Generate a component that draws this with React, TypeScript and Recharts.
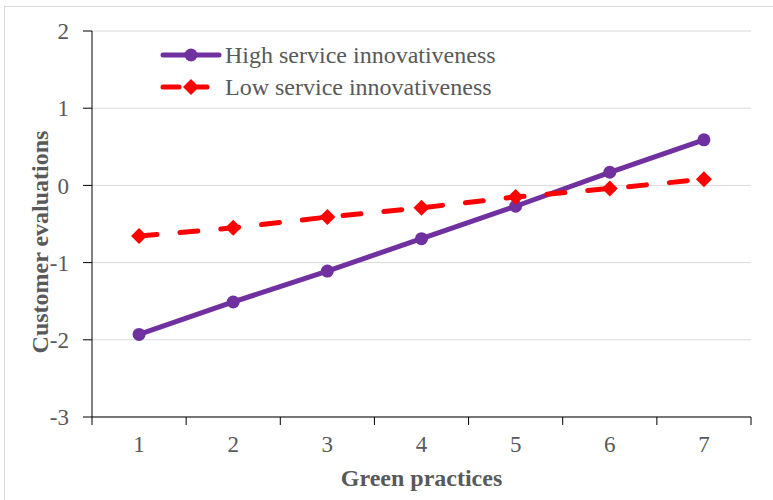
import { LineChart, Line, XAxis, YAxis, CartesianGrid, Legend } from "recharts";

const GREEN_PRACTICES = [1, 2, 3, 4, 5, 6, 7];
const HIGH_INNOVATIVENESS = [-1.93, -1.51, -1.11, -0.69, -0.27, 0.17, 0.59];
const LOW_INNOVATIVENESS = [-0.655, -0.55, -0.41, -0.29, -0.15, -0.04, 0.08];
const Y_TICKS = [-3, -2, -1, 0, 1, 2];
const X_BOUNDARIES = [0.5, 1.5, 2.5, 3.5, 4.5, 5.5, 6.5, 7.5];

const SERIES_HIGH = "High service innovativeness";
const SERIES_LOW = "Low service innovativeness";

const data = GREEN_PRACTICES.map((x, i) => ({
  x,
  high: HIGH_INNOVATIVENESS[i],
  low: LOW_INNOVATIVENESS[i],
}));

const xTicks = [...GREEN_PRACTICES, ...X_BOUNDARIES].sort((a, b) => a - b);

const FONT = '"Liberation Serif", "Times New Roman", serif';
const TEXT = "#595959";
const PURPLE = "#7030A0";
const RED = "#FF0000";

const Diamond = (props: any) => {
  const { cx, cy, size = 8 } = props;
  if (cx == null || cy == null) return <g />;
  return (
    <path
      d={`M${cx},${cy - size} L${cx + size},${cy} L${cx},${cy + size} L${cx - size},${cy} Z`}
      fill={RED}
    />
  );
};

// integer ticks get a label, half ticks get a small mark at the category boundary
const XTick = (props: any) => {
  const { x, y, payload } = props;
  const v = payload.value;
  if (!Number.isInteger(v)) {
    return <line x1={x} x2={x} y1={y} y2={y + 8} stroke="#000" strokeWidth={1} />;
  }
  return (
    <text x={x} y={y + 35} textAnchor="middle" fill={TEXT} fontSize={23} fontFamily={FONT}>
      {v}
    </text>
  );
};

const LegendBox = () => (
  <div style={{ fontFamily: FONT, fontSize: 24, color: TEXT, lineHeight: "32px" }}>
    <div style={{ display: "flex", alignItems: "center" }}>
      <svg width={62} height={20}>
        <line x1={3} x2={59} y1={10} y2={10} stroke={PURPLE} strokeWidth={5} strokeLinecap="round" />
        <circle cx={31} cy={10} r={6.5} fill={PURPLE} />
      </svg>
      <span style={{ marginLeft: 3 }}>{SERIES_HIGH}</span>
    </div>
    <div style={{ display: "flex", alignItems: "center" }}>
      <svg width={62} height={20}>
        <line x1={3} x2={59} y1={10} y2={10} stroke={RED} strokeWidth={5} strokeDasharray="16 12" strokeLinecap="round" />
        <Diamond cx={31} cy={10} size={8} />
      </svg>
      <span style={{ marginLeft: 3 }}>{SERIES_LOW}</span>
    </div>
  </div>
);

export default function App() {
  return (
    <div
      style={{
        position: "absolute",
        left: 0,
        top: 0,
        width: 773,
        height: 500,
        overflow: "hidden",
        background: "#fff",
      }}
    >
      <div
        style={{
          position: "absolute",
          left: 4,
          top: 6,
          width: 800,
          height: 540,
          border: "1px solid #d9d9d9",
        }}
      />
      <div style={{ position: "absolute", left: 0, top: 0 }}>
        <LineChart
          width={773}
          height={500}
          data={data}
          margin={{ top: 31, right: 22, left: 32, bottom: 13 }}
        >
          <CartesianGrid vertical={false} stroke="#d9d9d9" strokeWidth={1} />
          <XAxis
            dataKey="x"
            type="number"
            domain={[0.5, 7.5]}
            ticks={xTicks}
            interval={0}
            height={70}
            tickSize={0}
            tickMargin={0}
            tickLine={false}
            axisLine={{ stroke: "#000", strokeWidth: 1 }}
            tick={<XTick />}
            label={{
              content: ({ viewBox }: any) => (
                <text
                  x={viewBox.x + viewBox.width / 2}
                  y={viewBox.y + 69}
                  textAnchor="middle"
                  fill={TEXT}
                  fontSize={24}
                  fontWeight="bold"
                  fontFamily={FONT}
                >
                  Green practices
                </text>
              ),
            }}
          />
          <YAxis
            type="number"
            domain={[-3, 2]}
            ticks={Y_TICKS}
            interval={0}
            width={60}
            tickSize={9}
            tickMargin={14}
            axisLine={{ stroke: "#000", strokeWidth: 1 }}
            tickLine={{ stroke: "#000", strokeWidth: 1 }}
            tick={{ fill: TEXT, fontSize: 23, fontFamily: FONT }}
            label={{
              content: ({ viewBox }: any) => {
                const cx = 48;
                const cy = viewBox.y + viewBox.height / 2 + 18;
                return (
                  <text
                    x={cx}
                    y={cy}
                    transform={`rotate(-90 ${cx} ${cy})`}
                    textAnchor="middle"
                    fill={TEXT}
                    fontSize={24}
                    fontWeight="bold"
                    fontFamily={FONT}
                  >
                    Customer evaluations
                  </text>
                );
              },
            }}
          />
          <Legend
            layout="vertical"
            align="center"
            verticalAlign="middle"
            content={<LegendBox />}
            wrapperStyle={{ left: 160, top: 39, width: 420, height: 70 }}
          />
          <Line
            type="linear"
            dataKey="high"
            name={SERIES_HIGH}
            stroke={PURPLE}
            strokeWidth={5}
            strokeLinecap="round"
            dot={{ r: 6.5, fill: PURPLE, stroke: PURPLE, strokeWidth: 0 }}
            activeDot={false}
            isAnimationActive={false}
          />
          <Line
            type="linear"
            dataKey="low"
            name={SERIES_LOW}
            stroke={RED}
            strokeWidth={5}
            strokeDasharray="18 23"
            strokeLinecap="round"
            dot={<Diamond />}
            activeDot={false}
            isAnimationActive={false}
          />
        </LineChart>
      </div>
    </div>
  );
}
